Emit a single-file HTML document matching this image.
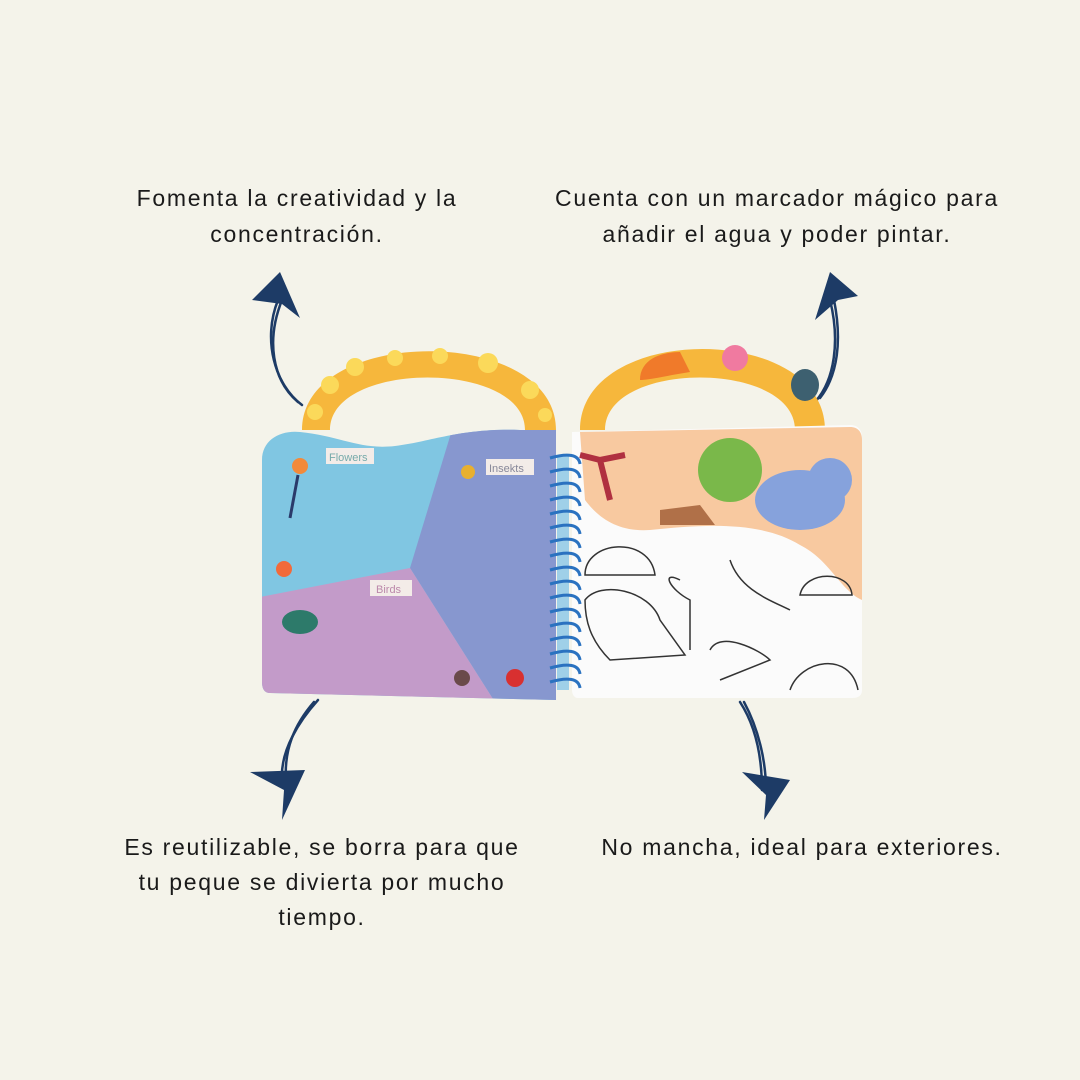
<!DOCTYPE html>
<html><head><meta charset="utf-8"><style>
html,body{margin:0;padding:0;background:#f4f3ea;}
svg{display:block}
text{font-family:"Liberation Sans",sans-serif;font-size:23px;fill:#1a1a1a;letter-spacing:1.7px}
</style></head><body>
<svg width="1080" height="1080" viewBox="0 0 1080 1080">
<rect width="1080" height="1080" fill="#f4f3ea"/>
<g text-anchor="middle">
<text x="297" y="206">Fomenta la creatividad y la</text>
<text x="297" y="242">concentración.</text>
<text x="777" y="206">Cuenta con un marcador mágico para</text>
<text x="777" y="242">añadir el agua y poder pintar.</text>
<text x="322" y="855">Es reutilizable, se borra para que</text>
<text x="322" y="890">tu peque se divierta por mucho</text>
<text x="322" y="925">tiempo.</text>
<text x="802" y="855">No mancha, ideal para exteriores.</text>
</g>
<g fill="none" stroke="#1d3b66" stroke-width="2.5" stroke-linecap="round">
<path d="M302 405 C275 385 262 340 278 300"/><path d="M298 402 C272 380 266 340 282 300"/>
<path d="M815 402 C835 380 840 340 830 300"/><path d="M820 398 C838 375 842 340 834 300"/>
<path d="M318 700 C300 720 280 750 282 780"/><path d="M314 702 C294 725 284 750 286 780"/>
<path d="M740 702 C755 725 762 755 762 790"/><path d="M744 702 C758 728 766 760 766 790"/>
</g>
<g fill="#1d3b66">
<path d="M252 300 L280 272 L300 318 L282 304 Z"/>
<path d="M815 320 L830 272 L858 296 L838 300 Z"/>
<path d="M250 772 L305 770 L282 820 L284 790 Z"/>
<path d="M742 772 L790 780 L764 820 L766 795 Z"/>
</g>
<path d="M302 430 C302 325 556 325 556 430 L525 430 C525 360 330 360 330 430 Z" fill="#f6b73c"/>
<g fill="#fbd95a"><circle cx="330" cy="385" r="9"/><circle cx="355" cy="367" r="9"/><circle cx="395" cy="358" r="8"/><circle cx="440" cy="356" r="8"/><circle cx="488" cy="363" r="10"/><circle cx="530" cy="390" r="9"/><circle cx="315" cy="412" r="8"/><circle cx="545" cy="415" r="7"/></g>
<clipPath id="lp"><path d="M262 460 C262 440 280 430 300 432 C340 436 360 450 395 446 C430 442 460 428 520 430 L556 430 L556 700 L270 693 C264 693 262 688 262 682 Z"/></clipPath>
<g clip-path="url(#lp)">
<rect x="260" y="420" width="300" height="290" fill="#80c6e2"/>
<polygon points="455,420 560,420 560,710 500,710 410,568" fill="#8797cf"/>
<polygon points="260,597 410,568 500,710 260,710" fill="#c39bc9"/>
</g>
<rect x="326" y="448" width="48" height="16" fill="#f3ece8"/><text x="329" y="461" style="font-size:11px;fill:#7aa;letter-spacing:0">Flowers</text>
<rect x="486" y="459" width="48" height="16" fill="#f3ece8"/><text x="489" y="472" style="font-size:11px;fill:#889;letter-spacing:0">Insekts</text>
<rect x="370" y="580" width="42" height="16" fill="#f3ece8"/><text x="376" y="593" style="font-size:11px;fill:#b8a;letter-spacing:0">Birds</text>
<circle cx="300" cy="466" r="8" fill="#f28a3a"/><path d="M298 475 L290 518" stroke="#2a3a6a" stroke-width="3"/>
<circle cx="284" cy="569" r="8" fill="#f26a3a"/>
<ellipse cx="300" cy="622" rx="18" ry="12" fill="#2d7a6a"/>
<circle cx="468" cy="472" r="7" fill="#e8b030"/>
<circle cx="462" cy="678" r="8" fill="#6a4a4a"/>
<circle cx="515" cy="678" r="9" fill="#d83030"/>
<path d="M580 430 C580 322 825 322 825 430 L795 430 C795 360 605 360 605 430 Z" fill="#f6b73c"/>
<path d="M640 380 C640 360 660 352 680 352 L690 372 C670 375 650 380 640 380Z" fill="#f07a2a"/>
<circle cx="735" cy="358" r="13" fill="#f07aa0"/><ellipse cx="805" cy="385" rx="14" ry="16" fill="#3d6070"/>
<path d="M572 432 L850 425 C858 425 862 430 862 438 L862 690 C862 696 858 698 852 698 L578 698 C574 698 572 694 572 690 Z" fill="#fbfbfb"/>
<path d="M580 432 L850 427 C858 427 862 432 862 440 L862 600 C840 590 830 560 800 545 C760 520 700 525 650 530 C620 532 600 520 585 500 Z" fill="#f8c9a0"/>
<circle cx="730" cy="470" r="32" fill="#7ab84a"/>
<ellipse cx="800" cy="500" rx="45" ry="30" fill="#86a2dc"/><circle cx="830" cy="480" r="22" fill="#86a2dc"/>
<path d="M610 500 L600 460 M600 460 L580 455 M600 460 L625 455" stroke="#b03040" stroke-width="6"/>
<path d="M660 510 L700 505 L715 525 L660 525 Z" fill="#b07048"/>
<g fill="none" stroke="#333" stroke-width="1.5">
<path d="M585 575 C585 540 650 535 655 575 Z"/>
<path d="M585 600 C600 580 650 590 660 620 L685 655 L610 660 C590 640 585 620 585 600Z"/>
<path d="M680 580 C660 570 670 590 690 600 L690 650"/>
<path d="M730 560 C740 590 770 600 790 610"/>
<path d="M710 650 C720 630 760 650 770 660 L720 680"/>
<path d="M790 690 C800 660 850 650 858 690"/>
<path d="M800 595 C805 570 850 570 852 595 Z"/>
</g>
<rect x="557" y="455" width="12" height="235" fill="#9fd0e8"/>
<g fill="none" stroke="#2a72c0" stroke-width="3">
<path d="M550 458 q28 -8 30 6"/><path d="M550 472 q28 -8 30 6"/><path d="M550 486 q28 -8 30 6"/><path d="M550 500 q28 -8 30 6"/><path d="M550 514 q28 -8 30 6"/><path d="M550 528 q28 -8 30 6"/><path d="M550 542 q28 -8 30 6"/><path d="M550 556 q28 -8 30 6"/><path d="M550 570 q28 -8 30 6"/><path d="M550 584 q28 -8 30 6"/><path d="M550 598 q28 -8 30 6"/><path d="M550 612 q28 -8 30 6"/><path d="M550 626 q28 -8 30 6"/><path d="M550 640 q28 -8 30 6"/><path d="M550 654 q28 -8 30 6"/><path d="M550 668 q28 -8 30 6"/><path d="M550 682 q28 -8 30 6"/>
</g>
</svg>
</body></html>
